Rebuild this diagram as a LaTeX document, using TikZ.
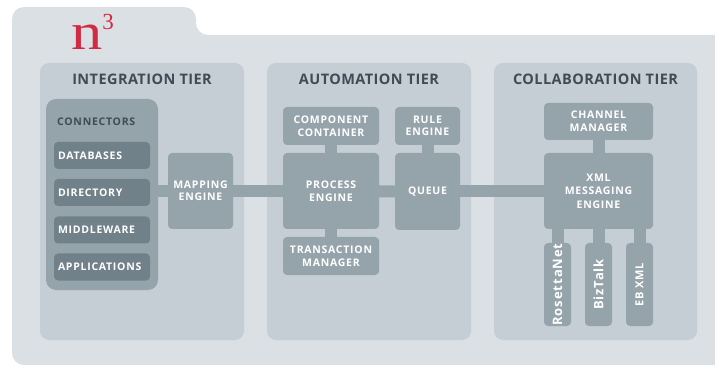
\documentclass[tikz,border=0pt]{standalone}
\usepackage{fontspec}
\setmainfont{Open Sans}
\newfontfamily\unitfont{Open Sans}[LetterSpace=7]
\newfontfamily\titlefont{Open Sans}[LetterSpace=3]
\newfontfamily\logofont{Liberation Serif}
\usepackage{graphicx}

\definecolor{shell}{HTML}{DBE0E4}
\definecolor{tierfill}{HTML}{C6CED5}
\definecolor{unitfill}{HTML}{95A3AB}
\definecolor{slotfill}{HTML}{71818A}
\definecolor{labeltext}{HTML}{3F4B55}
\definecolor{brand}{HTML}{D12B43}

\pgfdeclarelayer{shell}
\pgfdeclarelayer{links}
\pgfsetlayers{shell,links,main}

\tikzset{
	tier/.style={fill=tierfill, rounded corners=9pt, minimum height=277pt, inner sep=0pt},
	tiertitle/.style={text=labeltext, font=\titlefont\bfseries\fontsize{14.5}{14.5}\selectfont},
	unit/.style={fill=unitfill, rounded corners=4pt, text=white, align=center, inner sep=0pt,
		font=\unitfont\bfseries\fontsize{10.5}{12.5}\selectfont},
	slot/.style={fill=slotfill, rounded corners=4pt, text=white, minimum width=96pt, minimum height=27pt,
		text width=88pt, align=left, inner sep=4pt, font=\unitfont\bfseries\fontsize{10.5}{12.5}\selectfont},
	proto/.style={unit, minimum width=27pt, minimum height=83pt},
	link/.style={draw=unitfill, line width=12pt}
}

\begin{document}
\begin{tikzpicture}[x=1pt, y=-1pt]
	\useasboundingbox (0,0) rectangle (715,366);

	% folder shell and the three tiers
	\begin{pgfonlayer}{shell}
		\fill[shell, rounded corners=12pt] (12,365) -- (12,7) -- (196,7) -- (196,35) -- (730,35) -- (730,365) -- cycle;
		\node[tier, minimum width=204pt] (integ) at (142,201.5) {};
		\node[tier, minimum width=204pt] (autom) at (369,201.5) {};
		\node[tier, minimum width=203pt] (collab) at (595.5,201.5) {};
	\end{pgfonlayer}

	\node[anchor=base west, text=brand, inner sep=0pt] (logo) at (71,50)
		{\logofont\fontsize{52}{52}\selectfont\scalebox{1.2}[1]{n}\raisebox{20pt}{\fontsize{23}{23}\selectfont 3}};

	\node[tiertitle] (integtitle) at ([yshift=-17pt]integ.north) {INTEGRATION TIER};
	\node[tiertitle] (automtitle) at ([yshift=-17pt]autom.north) {AUTOMATION TIER};
	\node[tiertitle] (collabtitle) at ([yshift=-17pt]collab.north) {COLLABORATION TIER};

	% integration tier
	\node[unit, rounded corners=10pt, minimum width=112pt, minimum height=191pt] (conn) at (102,194.5) {};
	\node[anchor=west, text=labeltext, inner sep=0pt, font=\unitfont\bfseries\fontsize{10.5}{12}\selectfont] (conntitle) at (57,122) {CONNECTORS};
	\node[slot] (db) at (102,155.5) {DATABASES};
	\node[slot] (dir) at (102,192.5) {DIRECTORY};
	\node[slot] (mw) at (102,230) {MIDDLEWARE};
	\node[slot] (apps) at (102,267) {APPLICATIONS};
	\node[unit, minimum width=65pt, minimum height=76pt] (map) at (200.5,191) {MAPPING\\ENGINE};

	% automation tier
	\node[unit, minimum width=96pt, minimum height=38pt] (comp) at (331,126) {COMPONENT\\CONTAINER};
	\node[unit, minimum width=65pt, minimum height=38pt] (rule) at (427.5,126) {RULE\\ENGINE};
	\node[unit, minimum width=96pt, minimum height=76pt] (proc) at (331,191) {PROCESS\\ENGINE};
	\node[unit, minimum width=65pt, minimum height=77pt] (queue) at (427.5,191.5) {QUEUE};
	\node[unit, minimum width=96pt, minimum height=38pt] (trans) at (331,256) {TRANSACTION\\MANAGER};

	% collaboration tier
	\node[unit, minimum width=109pt, minimum height=37pt] (chan) at (598.5,121.5) {CHANNEL\\MANAGER};
	\node[unit, minimum width=109pt, minimum height=76pt, font=\unitfont\bfseries\fontsize{10.5}{13.5}\selectfont] (xml) at (598.5,191) {XML\\MESSAGING\\ENGINE};
	\node[proto] (rosetta) at (557.5,284.5) {\rotatebox{90}{\fontsize{13}{13}\selectfont RosettaNet}};
	\node[proto] (biztalk) at (598.5,284.5) {\rotatebox{90}{\fontsize{13}{13}\selectfont BizTalk}};
	\node[proto] (ebxml) at (639.5,284.5) {\rotatebox{90}{\fontsize{11}{11}\selectfont EB XML}};

	% bars joining the units
	\begin{pgfonlayer}{links}
		\draw[link] (conn.center |- map.center) -- (map);
		\draw[link] (map) -- (proc);
		\draw[link] (proc) -- (queue);
		\draw[link] (queue) -- (queue -| xml);
		\draw[link] (comp) -- (proc);
		\draw[link] (proc) -- (trans);
		\draw[link] (rule) -- (queue);
		\draw[link] (chan) -- (xml);
		\draw[link] (xml.center -| rosetta) -- (rosetta);
		\draw[link] (xml.center -| biztalk) -- (biztalk);
		\draw[link] (xml.center -| ebxml) -- (ebxml);
	\end{pgfonlayer}
\end{tikzpicture}
\end{document}
